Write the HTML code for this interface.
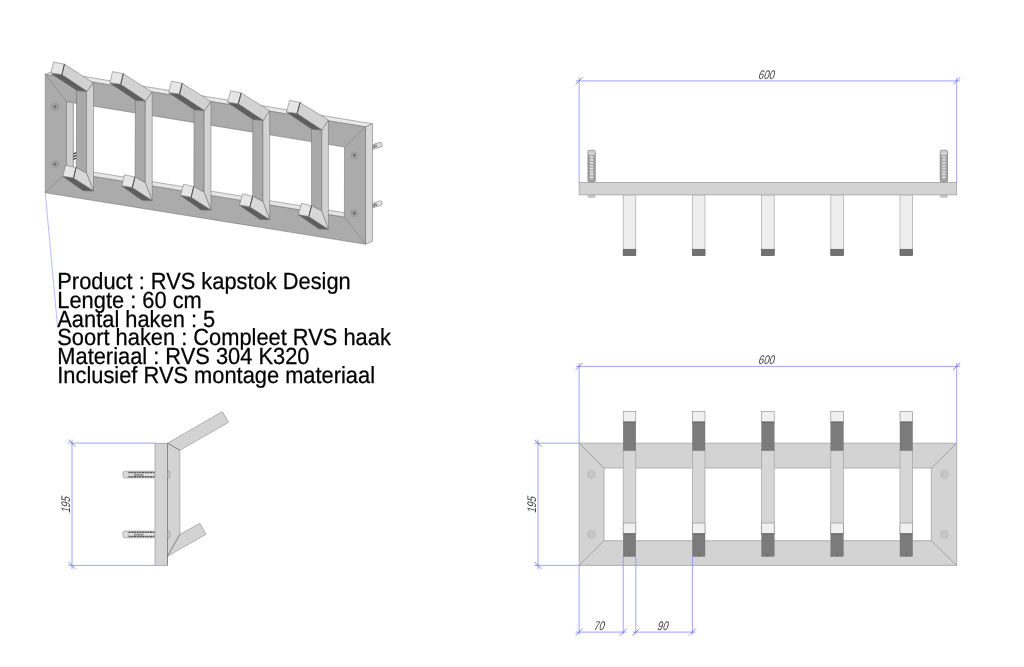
<!DOCTYPE html>
<html lang="nl"><head><meta charset="utf-8"><title>RVS kapstok Design</title>
<style>
html,body{margin:0;padding:0;background:#fff;}
body{width:1024px;height:667px;position:relative;overflow:hidden;font-family:"Liberation Sans",sans-serif;}
svg{position:absolute;left:0;top:0;will-change:transform;}
svg text{font-family:"Liberation Sans",sans-serif;}
</style></head><body>
<svg width="1024" height="667" viewBox="0 0 1024 667">
<g id="iso"><line x1="372.0" y1="147.2" x2="379.79999999999995" y2="144.7" stroke="#7a7a7a" stroke-width="5.2" stroke-linecap="round"/>
<line x1="372.0" y1="147.2" x2="379.79999999999995" y2="144.7" stroke="#dedede" stroke-width="4.2" stroke-linecap="round"/>
<line x1="372.5" y1="147.0" x2="377.2" y2="145.5" stroke="#555" stroke-width="2.6" stroke-dasharray="1 0.6"/>
<line x1="372.0" y1="205.9" x2="379.79999999999995" y2="203.1" stroke="#7a7a7a" stroke-width="5.2" stroke-linecap="round"/>
<line x1="372.0" y1="205.9" x2="379.79999999999995" y2="203.1" stroke="#dedede" stroke-width="4.2" stroke-linecap="round"/>
<line x1="372.5" y1="205.70000000000002" x2="377.2" y2="204.20000000000002" stroke="#555" stroke-width="2.6" stroke-dasharray="1 0.6"/>
<polygon points="45.25,74.40 365.50,126.90 372.50,123.80 52.25,71.30" fill="#e9e9e9" stroke="#6a6a6a" stroke-width="0.5" stroke-linejoin="round" />
<polygon points="365.50,126.90 372.50,123.80 372.50,241.15 365.50,244.25" fill="#d8d8d8" stroke="#6a6a6a" stroke-width="0.5" stroke-linejoin="round" />
<path d="M45.25,74.40 365.50,126.90 365.50,244.25 45.25,192.75Z M66.50,101.70 344.50,147.10 344.40,217.00 66.50,172.00Z" fill="#ababab" fill-rule="evenodd" stroke="#6a6a6a" stroke-width="0.5" stroke-linejoin="round"/>
<polygon points="66.50,101.70 73.50,102.85 73.50,168.90 66.50,172.00" fill="#cfcfcf" stroke="#6a6a6a" stroke-width="0.5" stroke-linejoin="round" />
<polygon points="72.40,102.70 73.50,102.85 73.50,168.90 72.40,169.40" fill="#b8b8b8" stroke="none" stroke-width="0" stroke-linejoin="round" />
<polygon points="66.50,172.00 73.50,168.90 344.25,212.77 344.40,217.00" fill="#e6e6e6" stroke="#6a6a6a" stroke-width="0.5" stroke-linejoin="round" />
<line x1="45.25" y1="74.40" x2="66.50" y2="101.70" stroke="#777" stroke-width="0.5"/>
<line x1="365.50" y1="126.90" x2="344.50" y2="147.10" stroke="#777" stroke-width="0.5"/>
<line x1="365.50" y1="244.25" x2="344.40" y2="217.00" stroke="#777" stroke-width="0.5"/>
<line x1="45.25" y1="192.75" x2="66.50" y2="172.00" stroke="#777" stroke-width="0.5"/>
<path d="M73.2 154.2L76.6 152.4M73.2 156.9L76.6 155.1M73.2 159.6L76.6 157.8" stroke="#3c3c3c" stroke-width="1.2" fill="none"/>
<g stroke="#858585" fill="none" stroke-width="0.45"><circle cx="55" cy="106.8" r="3.7"/><circle cx="55" cy="106.8" r="2.5"/><path d="M53.5 106.8h3M55 105.3v3" stroke="#5c5c5c" stroke-width="1.1"/></g>
<g stroke="#858585" fill="none" stroke-width="0.45"><circle cx="55" cy="164.25" r="3.7"/><circle cx="55" cy="164.25" r="2.5"/><path d="M53.5 164.25h3M55 162.75v3" stroke="#5c5c5c" stroke-width="1.1"/></g>
<g stroke="#858585" fill="none" stroke-width="0.45"><circle cx="354.3" cy="155.3" r="3.7"/><circle cx="354.3" cy="155.3" r="2.5"/><path d="M352.8 155.3h3M354.3 153.8v3" stroke="#5c5c5c" stroke-width="1.1"/></g>
<g stroke="#858585" fill="none" stroke-width="0.45"><circle cx="354.3" cy="213.25" r="3.7"/><circle cx="354.3" cy="213.25" r="2.5"/><path d="M352.8 213.25h3M354.3 211.75v3" stroke="#5c5c5c" stroke-width="1.1"/></g>
<polygon points="76.60,90.60 86.50,91.25 86.50,173.25 76.25,167.40" fill="#a9a9a9" stroke="#6a6a6a" stroke-width="0.5" stroke-linejoin="round" />
<polygon points="86.50,91.25 93.50,82.75 93.50,190.75 86.50,173.25" fill="#d2d2d2" stroke="#6a6a6a" stroke-width="0.5" stroke-linejoin="round" />
<polygon points="51.00,73.40 61.90,74.60 87.25,91.25 76.90,90.60" fill="#5e5e5e" stroke="#6a6a6a" stroke-width="0.5" stroke-linejoin="round" />
<polygon points="64.40,64.10 93.00,82.75 87.00,91.25 61.90,74.60" fill="#d2d2d2" stroke="#6a6a6a" stroke-width="0.5" stroke-linejoin="round" />
<polygon points="53.50,62.10 64.40,64.10 61.90,74.60 51.00,73.10" fill="#e6e6e6" stroke="#6a6a6a" stroke-width="0.5" stroke-linejoin="round" />
<line x1="64.40" y1="64.10" x2="61.90" y2="74.60" stroke="#4a4a4a" stroke-width="0.9"/>
<polygon points="62.90,176.40 73.50,178.00 93.50,191.10 83.10,190.75" fill="#5e5e5e" stroke="#6a6a6a" stroke-width="0.5" stroke-linejoin="round" />
<polygon points="76.00,167.40 86.50,173.25 93.50,190.75 73.50,178.00" fill="#d8d8d8" stroke="#6a6a6a" stroke-width="0.5" stroke-linejoin="round" />
<polygon points="65.60,165.25 76.00,167.40 73.50,178.00 62.90,176.10" fill="#e6e6e6" stroke="#6a6a6a" stroke-width="0.5" stroke-linejoin="round" />
<line x1="76.00" y1="167.40" x2="73.50" y2="178.00" stroke="#4a4a4a" stroke-width="0.9"/>
<polygon points="135.32,100.20 145.31,100.94 145.31,182.71 135.06,176.99" fill="#a9a9a9" stroke="#6a6a6a" stroke-width="0.5" stroke-linejoin="round" />
<polygon points="145.31,100.94 152.22,92.06 152.22,200.38 145.31,182.71" fill="#d2d2d2" stroke="#6a6a6a" stroke-width="0.5" stroke-linejoin="round" />
<polygon points="109.88,83.08 120.70,84.32 145.96,100.94 135.55,100.20" fill="#5e5e5e" stroke="#6a6a6a" stroke-width="0.5" stroke-linejoin="round" />
<polygon points="123.30,73.70 151.85,92.06 145.78,100.94 120.70,84.32" fill="#d2d2d2" stroke="#6a6a6a" stroke-width="0.5" stroke-linejoin="round" />
<polygon points="112.53,71.64 123.30,73.70 120.70,84.32 109.88,82.80" fill="#e6e6e6" stroke="#6a6a6a" stroke-width="0.5" stroke-linejoin="round" />
<line x1="123.30" y1="73.70" x2="120.70" y2="84.32" stroke="#4a4a4a" stroke-width="0.9"/>
<polygon points="121.77,185.99 132.31,187.62 152.22,200.64 142.07,200.31" fill="#5e5e5e" stroke="#6a6a6a" stroke-width="0.5" stroke-linejoin="round" />
<polygon points="134.88,176.99 145.31,182.71 152.22,200.38 132.31,187.62" fill="#d8d8d8" stroke="#6a6a6a" stroke-width="0.5" stroke-linejoin="round" />
<polygon points="124.57,174.75 134.88,176.99 132.31,187.62 121.77,185.70" fill="#e6e6e6" stroke="#6a6a6a" stroke-width="0.5" stroke-linejoin="round" />
<line x1="134.88" y1="176.99" x2="132.31" y2="187.62" stroke="#4a4a4a" stroke-width="0.9"/>
<polygon points="194.05,109.80 204.12,110.62 204.12,192.18 193.88,186.57" fill="#a9a9a9" stroke="#6a6a6a" stroke-width="0.5" stroke-linejoin="round" />
<polygon points="204.12,110.62 210.95,101.38 210.95,210.00 204.12,192.18" fill="#d2d2d2" stroke="#6a6a6a" stroke-width="0.5" stroke-linejoin="round" />
<polygon points="168.75,92.75 179.50,94.05 204.68,110.62 194.20,109.80" fill="#5e5e5e" stroke="#6a6a6a" stroke-width="0.5" stroke-linejoin="round" />
<polygon points="182.20,83.30 210.70,101.38 204.55,110.62 179.50,94.05" fill="#d2d2d2" stroke="#6a6a6a" stroke-width="0.5" stroke-linejoin="round" />
<polygon points="171.55,81.17 182.20,83.30 179.50,94.05 168.75,92.50" fill="#e6e6e6" stroke="#6a6a6a" stroke-width="0.5" stroke-linejoin="round" />
<line x1="182.20" y1="83.30" x2="179.50" y2="94.05" stroke="#4a4a4a" stroke-width="0.9"/>
<polygon points="180.65,195.57 191.12,197.25 210.95,210.18 201.05,209.88" fill="#5e5e5e" stroke="#6a6a6a" stroke-width="0.5" stroke-linejoin="round" />
<polygon points="193.75,186.57 204.12,192.18 210.95,210.00 191.12,197.25" fill="#d8d8d8" stroke="#6a6a6a" stroke-width="0.5" stroke-linejoin="round" />
<polygon points="183.55,184.25 193.75,186.57 191.12,197.25 180.65,195.30" fill="#e6e6e6" stroke="#6a6a6a" stroke-width="0.5" stroke-linejoin="round" />
<line x1="193.75" y1="186.57" x2="191.12" y2="197.25" stroke="#4a4a4a" stroke-width="0.9"/>
<polygon points="252.78,119.40 262.94,120.31 262.94,201.64 252.69,196.16" fill="#a9a9a9" stroke="#6a6a6a" stroke-width="0.5" stroke-linejoin="round" />
<polygon points="262.94,120.31 269.67,110.69 269.67,219.62 262.94,201.64" fill="#d2d2d2" stroke="#6a6a6a" stroke-width="0.5" stroke-linejoin="round" />
<polygon points="227.62,102.42 238.30,103.78 263.39,120.31 252.85,119.40" fill="#5e5e5e" stroke="#6a6a6a" stroke-width="0.5" stroke-linejoin="round" />
<polygon points="241.10,92.90 269.55,110.69 263.33,120.31 238.30,103.78" fill="#d2d2d2" stroke="#6a6a6a" stroke-width="0.5" stroke-linejoin="round" />
<polygon points="230.58,90.71 241.10,92.90 238.30,103.78 227.62,102.20" fill="#e6e6e6" stroke="#6a6a6a" stroke-width="0.5" stroke-linejoin="round" />
<line x1="241.10" y1="92.90" x2="238.30" y2="103.78" stroke="#4a4a4a" stroke-width="0.9"/>
<polygon points="239.52,205.16 249.94,206.88 269.67,219.71 260.02,219.44" fill="#5e5e5e" stroke="#6a6a6a" stroke-width="0.5" stroke-linejoin="round" />
<polygon points="252.62,196.16 262.94,201.64 269.67,219.62 249.94,206.88" fill="#d8d8d8" stroke="#6a6a6a" stroke-width="0.5" stroke-linejoin="round" />
<polygon points="242.53,193.75 252.62,196.16 249.94,206.88 239.52,204.90" fill="#e6e6e6" stroke="#6a6a6a" stroke-width="0.5" stroke-linejoin="round" />
<line x1="252.62" y1="196.16" x2="249.94" y2="206.88" stroke="#4a4a4a" stroke-width="0.9"/>
<polygon points="311.50,129.00 321.75,130.00 321.75,211.10 311.50,205.75" fill="#a9a9a9" stroke="#6a6a6a" stroke-width="0.5" stroke-linejoin="round" />
<polygon points="321.75,130.00 328.40,120.00 328.40,229.25 321.75,211.10" fill="#d2d2d2" stroke="#6a6a6a" stroke-width="0.5" stroke-linejoin="round" />
<polygon points="286.50,112.10 297.10,113.50 322.10,130.00 311.50,129.00" fill="#5e5e5e" stroke="#6a6a6a" stroke-width="0.5" stroke-linejoin="round" />
<polygon points="300.00,102.50 328.40,120.00 322.10,130.00 297.10,113.50" fill="#d2d2d2" stroke="#6a6a6a" stroke-width="0.5" stroke-linejoin="round" />
<polygon points="289.60,100.25 300.00,102.50 297.10,113.50 286.50,111.90" fill="#e6e6e6" stroke="#6a6a6a" stroke-width="0.5" stroke-linejoin="round" />
<line x1="300.00" y1="102.50" x2="297.10" y2="113.50" stroke="#4a4a4a" stroke-width="0.9"/>
<polygon points="298.40,214.75 308.75,216.50 328.40,229.25 319.00,229.00" fill="#5e5e5e" stroke="#6a6a6a" stroke-width="0.5" stroke-linejoin="round" />
<polygon points="311.50,205.75 321.75,211.10 328.40,229.25 308.75,216.50" fill="#d8d8d8" stroke="#6a6a6a" stroke-width="0.5" stroke-linejoin="round" />
<polygon points="301.50,203.25 311.50,205.75 308.75,216.50 298.40,214.50" fill="#e6e6e6" stroke="#6a6a6a" stroke-width="0.5" stroke-linejoin="round" />
<line x1="311.50" y1="205.75" x2="308.75" y2="216.50" stroke="#4a4a4a" stroke-width="0.9"/>
<path d="M45.25 192.75 L57.5 326.2" fill="none" stroke="#8c8cff" stroke-width="0.6"/></g>
<g id="side"><rect x="122.9" y="471.20000000000005" width="32" height="6.8" rx="1.8" fill="#e2e2e2" stroke="#8a8a8a" stroke-width="0.5"/>
<line x1="128.4" y1="472.40000000000003" x2="154.4" y2="472.40000000000003" stroke="#5a5a5a" stroke-width="1.5" stroke-dasharray="2.2 0.5"/>
<line x1="128.4" y1="476.8" x2="154.4" y2="476.8" stroke="#5a5a5a" stroke-width="1.5" stroke-dasharray="2.2 0.5"/>
<line x1="133.9" y1="474.8" x2="143.4" y2="474.8" stroke="#777" stroke-width="1.8" stroke-dasharray="1 0.4"/>
<rect x="123.30000000000001" y="471.6" width="5" height="6" rx="1.6" fill="#dcdcdc" stroke="#999" stroke-width="0.4"/>
<rect x="122.9" y="531.0" width="32" height="6.8" rx="1.8" fill="#e2e2e2" stroke="#8a8a8a" stroke-width="0.5"/>
<line x1="128.4" y1="532.1999999999999" x2="154.4" y2="532.1999999999999" stroke="#5a5a5a" stroke-width="1.5" stroke-dasharray="2.2 0.5"/>
<line x1="128.4" y1="536.6" x2="154.4" y2="536.6" stroke="#5a5a5a" stroke-width="1.5" stroke-dasharray="2.2 0.5"/>
<line x1="133.9" y1="534.6" x2="143.4" y2="534.6" stroke="#777" stroke-width="1.8" stroke-dasharray="1 0.4"/>
<rect x="123.30000000000001" y="531.4" width="5" height="6" rx="1.6" fill="#dcdcdc" stroke="#999" stroke-width="0.4"/>
<rect x="155" y="443.25" width="12.5" height="122.2" fill="#d3d3d3" stroke="#9a9a9a" stroke-width="0.7"/>
<polygon points="167.50,443.25 222.30,411.60 228.60,422.30 179.80,450.30" fill="#d3d3d3" stroke="#9a9a9a" stroke-width="0.7" stroke-linejoin="round" />
<polygon points="167.50,443.25 179.80,450.30 179.90,534.30 167.50,556.30" fill="#d3d3d3" stroke="#9a9a9a" stroke-width="0.7" stroke-linejoin="round" />
<polygon points="179.90,534.30 199.90,523.30 206.00,534.20 167.50,556.30" fill="#d3d3d3" stroke="#9a9a9a" stroke-width="0.7" stroke-linejoin="round" />
<line x1="167.50" y1="443.25" x2="167.50" y2="565.40" stroke="#707070" stroke-width="0.6"/>
<line x1="167.50" y1="443.25" x2="179.80" y2="450.30" stroke="#707070" stroke-width="0.5"/>
<line x1="167.50" y1="556.30" x2="179.90" y2="534.30" stroke="#707070" stroke-width="0.5"/>
<rect x="167.6" y="471.1" width="2.2" height="7" rx="0.8" fill="#c8c8c8" stroke="#8a8a8a" stroke-width="0.5"/>
<rect x="167.6" y="530.9" width="2.2" height="7" rx="0.8" fill="#c8c8c8" stroke="#8a8a8a" stroke-width="0.5"/>
<path d="M68.3 443.1H155M68.3 565.4H155M72 439.5V569" stroke="#8c8cff" stroke-width="0.8" fill="none"/>
<path d="M68.5 439.6L75.5 446.6" stroke="#5050ff" stroke-width="0.7"/>
<path d="M68.5 561.9L75.5 568.9" stroke="#5050ff" stroke-width="0.7"/>
<text transform="translate(69.8 505.2) rotate(-90) skewX(-15) scale(0.78 1)" text-anchor="middle" font-family="DejaVu Sans, sans-serif" font-weight="200" font-size="12.5" fill="#444">195</text></g>
<g id="top"><rect x="623.20" y="194.9" width="12.6" height="60.6" fill="#eeeeee" stroke="#a8a8a8" stroke-width="0.7"/>
<rect x="623.20" y="249.25" width="12.6" height="6.25" fill="#727272" stroke="#5a5a5a" stroke-width="0.6"/>
<rect x="692.40" y="194.9" width="12.6" height="60.6" fill="#eeeeee" stroke="#a8a8a8" stroke-width="0.7"/>
<rect x="692.40" y="249.25" width="12.6" height="6.25" fill="#727272" stroke="#5a5a5a" stroke-width="0.6"/>
<rect x="761.60" y="194.9" width="12.6" height="60.6" fill="#eeeeee" stroke="#a8a8a8" stroke-width="0.7"/>
<rect x="761.60" y="249.25" width="12.6" height="6.25" fill="#727272" stroke="#5a5a5a" stroke-width="0.6"/>
<rect x="830.80" y="194.9" width="12.6" height="60.6" fill="#eeeeee" stroke="#a8a8a8" stroke-width="0.7"/>
<rect x="830.80" y="249.25" width="12.6" height="6.25" fill="#727272" stroke="#5a5a5a" stroke-width="0.6"/>
<rect x="900.00" y="194.9" width="12.6" height="60.6" fill="#eeeeee" stroke="#a8a8a8" stroke-width="0.7"/>
<rect x="900.00" y="249.25" width="12.6" height="6.25" fill="#727272" stroke="#5a5a5a" stroke-width="0.6"/>
<rect x="587.9" y="150.3" width="7.4" height="31.9" rx="1.6" fill="#a4a4a4" stroke="#707070" stroke-width="0.6"/>
<rect x="588.5" y="150.8" width="6.2" height="4.2" rx="1.2" fill="#d2d2d2"/>
<line x1="591.6" y1="156.2" x2="591.6" y2="178.5" stroke="#e4e4e4" stroke-width="3.2" stroke-dasharray="1.7 1.2"/>
<rect x="588.1" y="195" width="7" height="2.4" rx="0.8" fill="#d0d0d0" stroke="#8a8a8a" stroke-width="0.4"/>
<rect x="940.2" y="150.3" width="7.4" height="31.9" rx="1.6" fill="#a4a4a4" stroke="#707070" stroke-width="0.6"/>
<rect x="940.8000000000001" y="150.8" width="6.2" height="4.2" rx="1.2" fill="#d2d2d2"/>
<line x1="943.9000000000001" y1="156.2" x2="943.9000000000001" y2="178.5" stroke="#e4e4e4" stroke-width="3.2" stroke-dasharray="1.7 1.2"/>
<rect x="940.4000000000001" y="195" width="7" height="2.4" rx="0.8" fill="#d0d0d0" stroke="#8a8a8a" stroke-width="0.4"/>
<rect x="579.13" y="182.4" width="377.57" height="12.5" fill="#d3d3d3" stroke="#9a9a9a" stroke-width="0.7"/>
<path d="M575.8 80.9H960M579.13 77.5V182.4M956.7 77.5V182.4" stroke="#8c8cff" stroke-width="0.8" fill="none"/>
<path d="M575.63 84.4L582.63 77.4" stroke="#5050ff" stroke-width="0.7"/>
<path d="M953.2 84.4L960.2 77.4" stroke="#5050ff" stroke-width="0.7"/>
<text transform="translate(765.9 78.9) skewX(-15) scale(0.78 1)" text-anchor="middle" font-family="DejaVu Sans, sans-serif" font-weight="200" font-size="12.5" fill="#444">600</text></g>
<g id="front"><path d="M579.13 443.2H956.7V565.4H579.13Z M604 468.07H931.3V540.7H604Z" fill="#d3d3d3" fill-rule="evenodd" stroke="#9a9a9a" stroke-width="0.7"/>
<line x1="579.13" y1="443.20" x2="604.00" y2="468.07" stroke="#6e6e6e" stroke-width="0.5"/>
<line x1="956.70" y1="443.20" x2="931.30" y2="468.07" stroke="#6e6e6e" stroke-width="0.5"/>
<line x1="956.70" y1="565.40" x2="931.30" y2="540.70" stroke="#6e6e6e" stroke-width="0.5"/>
<line x1="579.13" y1="565.40" x2="604.00" y2="540.70" stroke="#6e6e6e" stroke-width="0.5"/>
<g stroke="#8c8c8c" fill="none" stroke-width="0.3"><circle cx="591.4" cy="474.4" r="4"/><circle cx="591.4" cy="474.4" r="2.7"/><path d="M591.4 472.7l1.7 1.7l-1.7 1.7l-1.7 -1.7z"/></g>
<g stroke="#8c8c8c" fill="none" stroke-width="0.3"><circle cx="591.4" cy="534.3" r="4"/><circle cx="591.4" cy="534.3" r="2.7"/><path d="M591.4 532.5999999999999l1.7 1.7l-1.7 1.7l-1.7 -1.7z"/></g>
<g stroke="#8c8c8c" fill="none" stroke-width="0.3"><circle cx="944.3" cy="474.4" r="4"/><circle cx="944.3" cy="474.4" r="2.7"/><path d="M944.3 472.7l1.7 1.7l-1.7 1.7l-1.7 -1.7z"/></g>
<g stroke="#8c8c8c" fill="none" stroke-width="0.3"><circle cx="944.3" cy="534.3" r="4"/><circle cx="944.3" cy="534.3" r="2.7"/><path d="M944.3 532.5999999999999l1.7 1.7l-1.7 1.7l-1.7 -1.7z"/></g>
<rect x="623.20" y="450.4" width="12.6" height="83.4" fill="#d6d6d6" stroke="#a4a4a4" stroke-width="0.7"/>
<rect x="623.20" y="422" width="12.6" height="28.4" fill="#7b7b7b" stroke="#747474" stroke-width="0.4"/>
<rect x="623.20" y="411.3" width="12.6" height="10.7" fill="#f0f0f0" stroke="#8a8a8a" stroke-width="0.6"/>
<line x1="623.20" y1="422.00" x2="635.80" y2="422.00" stroke="#555" stroke-width="0.8"/>
<rect x="623.20" y="533.8" width="12.6" height="22.7" fill="#7b7b7b" stroke="#747474" stroke-width="0.4"/>
<rect x="623.20" y="523" width="12.6" height="10.8" fill="#f0f0f0" stroke="#8a8a8a" stroke-width="0.6"/>
<line x1="623.20" y1="533.80" x2="635.80" y2="533.80" stroke="#555" stroke-width="0.8"/>
<line x1="629.50" y1="553.30" x2="629.50" y2="556.30" stroke="#555" stroke-width="0.6"/>
<rect x="692.40" y="450.4" width="12.6" height="83.4" fill="#d6d6d6" stroke="#a4a4a4" stroke-width="0.7"/>
<rect x="692.40" y="422" width="12.6" height="28.4" fill="#7b7b7b" stroke="#747474" stroke-width="0.4"/>
<rect x="692.40" y="411.3" width="12.6" height="10.7" fill="#f0f0f0" stroke="#8a8a8a" stroke-width="0.6"/>
<line x1="692.40" y1="422.00" x2="705.00" y2="422.00" stroke="#555" stroke-width="0.8"/>
<rect x="692.40" y="533.8" width="12.6" height="22.7" fill="#7b7b7b" stroke="#747474" stroke-width="0.4"/>
<rect x="692.40" y="523" width="12.6" height="10.8" fill="#f0f0f0" stroke="#8a8a8a" stroke-width="0.6"/>
<line x1="692.40" y1="533.80" x2="705.00" y2="533.80" stroke="#555" stroke-width="0.8"/>
<line x1="698.70" y1="553.30" x2="698.70" y2="556.30" stroke="#555" stroke-width="0.6"/>
<rect x="761.60" y="450.4" width="12.6" height="83.4" fill="#d6d6d6" stroke="#a4a4a4" stroke-width="0.7"/>
<rect x="761.60" y="422" width="12.6" height="28.4" fill="#7b7b7b" stroke="#747474" stroke-width="0.4"/>
<rect x="761.60" y="411.3" width="12.6" height="10.7" fill="#f0f0f0" stroke="#8a8a8a" stroke-width="0.6"/>
<line x1="761.60" y1="422.00" x2="774.20" y2="422.00" stroke="#555" stroke-width="0.8"/>
<rect x="761.60" y="533.8" width="12.6" height="22.7" fill="#7b7b7b" stroke="#747474" stroke-width="0.4"/>
<rect x="761.60" y="523" width="12.6" height="10.8" fill="#f0f0f0" stroke="#8a8a8a" stroke-width="0.6"/>
<line x1="761.60" y1="533.80" x2="774.20" y2="533.80" stroke="#555" stroke-width="0.8"/>
<line x1="767.90" y1="553.30" x2="767.90" y2="556.30" stroke="#555" stroke-width="0.6"/>
<rect x="830.80" y="450.4" width="12.6" height="83.4" fill="#d6d6d6" stroke="#a4a4a4" stroke-width="0.7"/>
<rect x="830.80" y="422" width="12.6" height="28.4" fill="#7b7b7b" stroke="#747474" stroke-width="0.4"/>
<rect x="830.80" y="411.3" width="12.6" height="10.7" fill="#f0f0f0" stroke="#8a8a8a" stroke-width="0.6"/>
<line x1="830.80" y1="422.00" x2="843.40" y2="422.00" stroke="#555" stroke-width="0.8"/>
<rect x="830.80" y="533.8" width="12.6" height="22.7" fill="#7b7b7b" stroke="#747474" stroke-width="0.4"/>
<rect x="830.80" y="523" width="12.6" height="10.8" fill="#f0f0f0" stroke="#8a8a8a" stroke-width="0.6"/>
<line x1="830.80" y1="533.80" x2="843.40" y2="533.80" stroke="#555" stroke-width="0.8"/>
<line x1="837.10" y1="553.30" x2="837.10" y2="556.30" stroke="#555" stroke-width="0.6"/>
<rect x="900.00" y="450.4" width="12.6" height="83.4" fill="#d6d6d6" stroke="#a4a4a4" stroke-width="0.7"/>
<rect x="900.00" y="422" width="12.6" height="28.4" fill="#7b7b7b" stroke="#747474" stroke-width="0.4"/>
<rect x="900.00" y="411.3" width="12.6" height="10.7" fill="#f0f0f0" stroke="#8a8a8a" stroke-width="0.6"/>
<line x1="900.00" y1="422.00" x2="912.60" y2="422.00" stroke="#555" stroke-width="0.8"/>
<rect x="900.00" y="533.8" width="12.6" height="22.7" fill="#7b7b7b" stroke="#747474" stroke-width="0.4"/>
<rect x="900.00" y="523" width="12.6" height="10.8" fill="#f0f0f0" stroke="#8a8a8a" stroke-width="0.6"/>
<line x1="900.00" y1="533.80" x2="912.60" y2="533.80" stroke="#555" stroke-width="0.8"/>
<line x1="906.30" y1="553.30" x2="906.30" y2="556.30" stroke="#555" stroke-width="0.6"/>
<path d="M575.8 366.4H960M579.13 363V443.2M956.7 363V443.2" stroke="#8c8cff" stroke-width="0.8" fill="none"/>
<path d="M575.63 369.9L582.63 362.9" stroke="#5050ff" stroke-width="0.7"/>
<path d="M953.2 369.9L960.2 362.9" stroke="#5050ff" stroke-width="0.7"/>
<text transform="translate(765.9 364.2) skewX(-15) scale(0.78 1)" text-anchor="middle" font-family="DejaVu Sans, sans-serif" font-weight="200" font-size="12.5" fill="#444">600</text>
<path d="M534.3 443.2H579.13M534.3 565.4H579.13M538 439.5V569" stroke="#8c8cff" stroke-width="0.8" fill="none"/>
<path d="M534.5 439.7L541.5 446.7" stroke="#5050ff" stroke-width="0.7"/>
<path d="M534.5 561.9L541.5 568.9" stroke="#5050ff" stroke-width="0.7"/>
<text transform="translate(535.8 505.2) rotate(-90) skewX(-15) scale(0.78 1)" text-anchor="middle" font-family="DejaVu Sans, sans-serif" font-weight="200" font-size="12.5" fill="#444">195</text>
<path d="M579.13 565.4V634.4M623.20 556.5V634.4M635.80 556.5V634.4M692.40 556.5V634.4M575.6 632.1H626.40M632.60 632.1H695.60" stroke="#8c8cff" stroke-width="0.8" fill="none"/>
<path d="M575.63 635.6L582.63 628.6" stroke="#5050ff" stroke-width="0.7"/>
<path d="M619.7 635.6L626.7 628.6" stroke="#5050ff" stroke-width="0.7"/>
<path d="M632.3000000000001 635.6L639.3000000000001 628.6" stroke="#5050ff" stroke-width="0.7"/>
<path d="M688.9000000000001 635.6L695.9000000000001 628.6" stroke="#5050ff" stroke-width="0.7"/>
<text transform="translate(598.6 629.75) skewX(-15) scale(0.78 1)" text-anchor="middle" font-family="DejaVu Sans, sans-serif" font-weight="200" font-size="12.5" fill="#444">70</text>
<text transform="translate(662.2 629.75) skewX(-15) scale(0.78 1)" text-anchor="middle" font-family="DejaVu Sans, sans-serif" font-weight="200" font-size="12.5" fill="#444">90</text></g>
<g id="spec">
<text transform="translate(57.3 289.05) scale(1.0 1.07)" font-size="21.85" fill="#000" stroke="#000" stroke-width="0.25" text-rendering="geometricPrecision">Product : RVS kapstok Design</text>
<text transform="translate(57.3 307.80) scale(1.0 1.07)" font-size="21.85" fill="#000" stroke="#000" stroke-width="0.25" text-rendering="geometricPrecision">Lengte : 60 cm</text>
<text transform="translate(57.3 326.55) scale(1.0 1.07)" font-size="21.85" fill="#000" stroke="#000" stroke-width="0.25" text-rendering="geometricPrecision">Aantal haken : 5</text>
<text transform="translate(57.3 345.30) scale(1.0 1.07)" font-size="21.85" fill="#000" stroke="#000" stroke-width="0.25" text-rendering="geometricPrecision">Soort haken : Compleet RVS haak</text>
<text transform="translate(57.3 364.05) scale(1.0 1.07)" font-size="21.85" fill="#000" stroke="#000" stroke-width="0.25" text-rendering="geometricPrecision">Materiaal : RVS 304 K320</text>
<text transform="translate(57.3 382.80) scale(1.0 1.07)" font-size="21.85" fill="#000" stroke="#000" stroke-width="0.25" text-rendering="geometricPrecision">Inclusief RVS montage materiaal</text>
</g>
</svg>
</body></html>
